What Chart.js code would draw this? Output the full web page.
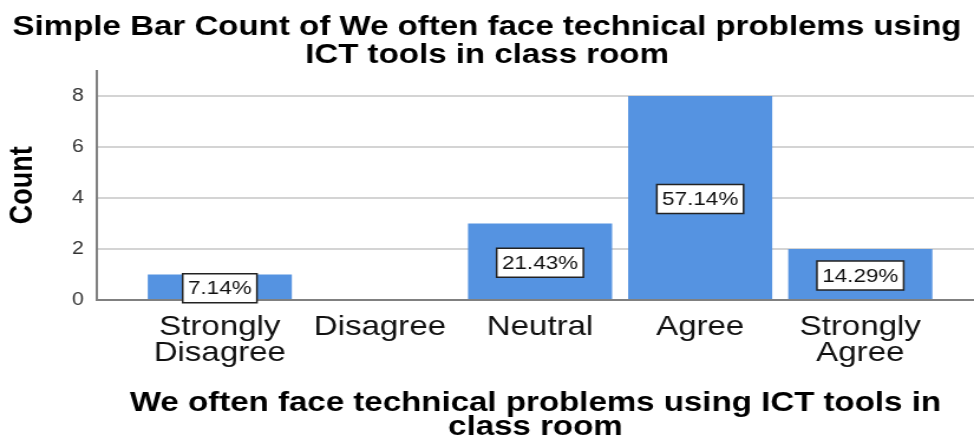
<!DOCTYPE html>
<html>
<head>
<meta charset="utf-8">
<script src="https://cdn.jsdelivr.net/npm/chart.js@4.4.0/dist/chart.umd.min.js"></script>
<style>
  html, body { margin: 0; padding: 0; background: #fff; overflow: hidden; }
  /* the reference is stretched sideways, so draw narrow and widen the box */
  #wrap { width: 825px; height: 441px; transform: scaleX(1.1806); transform-origin: 0 0; }
</style>
</head>
<body>
<div id="wrap"><canvas id="bar-chart" width="825" height="441"></canvas></div>
<script>
var categories = ["Strongly Disagree", "Disagree", "Neutral", "Agree", "Strongly Agree"];
var counts = [1, 0, 3, 8, 2];
var yTicks = [0, 2, 4, 6, 8];
var chartTitle = ["Simple Bar Count of We often face technical problems using", "ICT tools in class room"];
var xTitle = ["We often face technical problems using ICT tools in", "class room"];
var yTitle = "Count";

var fontFamily = "'Liberation Sans', Arial, sans-serif";

// Percent boxes in the middle of each bar
var boxLabels = {
  id: "boxLabels",
  afterDraw: function (chart) {
    var ctx = chart.ctx;
    var meta = chart.getDatasetMeta(0);
    var total = counts.reduce(function (a, b) { return a + b; }, 0);
    ctx.save();
    ctx.font = "19px " + fontFamily;
    ctx.textAlign = "center";
    ctx.textBaseline = "middle";
    meta.data.forEach(function (bar, i) {
      if (!counts[i]) return;
      var text = ((counts[i] / total) * 100).toFixed(2) + "%";
      var cy = (bar.y + bar.base) / 2 + 1.5;
      var w = ctx.measureText(text).width + 9;
      var h = 29;
      ctx.fillStyle = "#fff";
      ctx.fillRect(bar.x - w / 2, cy - h / 2, w, h);
      ctx.strokeStyle = "#222";
      ctx.lineWidth = 1.5;
      ctx.strokeRect(bar.x - w / 2, cy - h / 2, w, h);
      ctx.fillStyle = "#111";
      ctx.fillText(text, bar.x, cy + 1);
    });
    ctx.restore();
  },
};

function countChart() {
  Chart.defaults.font.family = fontFamily;
  new Chart(document.getElementById("bar-chart"), {
    type: "bar",
    data: {
      datasets: [
        {
          data: counts.map(function (v, i) { return { x: i, y: v }; }),
          backgroundColor: "#5593e1",
          borderWidth: 0,
          barPercentage: 0.9,
          categoryPercentage: 1,
        },
      ],
    },
    options: {
      responsive: false,
      devicePixelRatio: 1,
      animation: false,
      layout: { padding: 0 },
      plugins: {
        legend: { display: false },
        tooltip: { enabled: false },
        title: {
          display: true,
          text: chartTitle,
          color: "#000",
          font: { size: 28, weight: "bold", lineHeight: 1.0 },
          padding: { top: 13, bottom: 1.5 },
        },
      },
      scales: {
        x: {
          type: "linear",
          offset: false,
          min: -0.768,
          max: 4.71,
          afterBuildTicks: function (scale) {
            scale.ticks = categories.map(function (c, i) { return { value: i }; });
          },
          afterFit: function (scale) { scale.height = 141; },
          grid: { display: false, drawTicks: false, offset: false },
          border: { color: "#808080", width: 2, z: 1 },
          ticks: {
            autoSkip: false,
            maxRotation: 0,
            padding: 15,
            color: "#111",
            font: { size: 28, lineHeight: 0.9 },
            callback: function (v) {
              return categories[v] ? categories[v].split(" ") : "";
            },
          },
          title: {
            display: true,
            text: xTitle,
            color: "#000",
            font: { size: 28, weight: "bold", lineHeight: 0.88 },
            padding: { top: 0, bottom: 1 },
          },
        },
        y: {
          min: 0,
          max: 9,
          afterBuildTicks: function (scale) {
            scale.ticks = yTicks.map(function (v) { return { value: v }; });
          },
          afterFit: function (scale) { scale.width = 82; },
          grid: {
            color: function (c) {
              return c.tick && c.tick.value === 0 ? "rgba(0,0,0,0)" : "#d4d4d4";
            },
            lineWidth: 2,
            drawTicks: false,
          },
          border: { color: "#808080", width: 2 },
          ticks: { padding: 11, color: "#333", font: { size: 18 } },
          title: {
            display: true,
            text: yTitle,
            color: "#000",
            font: { size: 27, weight: "bold" },
            padding: { top: 3, bottom: 0 },
          },
        },
      },
    },
    plugins: [boxLabels],
  });
}

document.addEventListener("DOMContentLoaded", function () {
  countChart();
});
</script>
</body>
</html>
